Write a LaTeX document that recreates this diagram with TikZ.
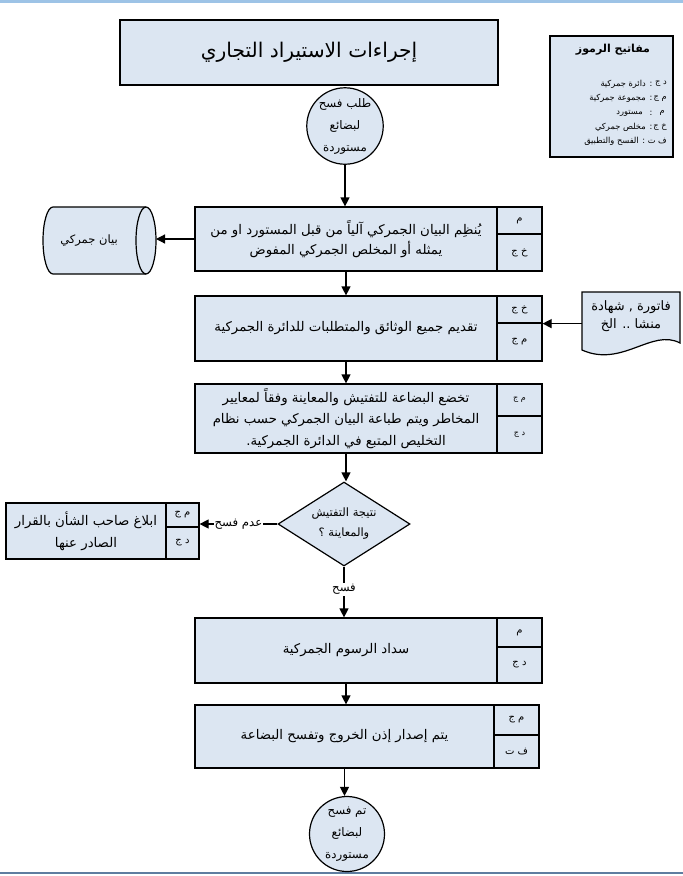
\documentclass[tikz,border=0pt]{standalone}
\usepackage{fontspec}
\usetikzlibrary{shapes.geometric,arrows.meta,calc}
\newfontfamily\arfont[Script=Arabic]{DejaVu Sans}
\TeXXeTstate=1
\newcommand\AR[1]{{\arfont\beginR #1\endR}}
\definecolor{boxfill}{RGB}{220,230,242}
\definecolor{topline}{RGB}{157,195,230}
\definecolor{botline}{RGB}{95,125,160}
\begin{document}
\begin{tikzpicture}[x=1pt,y=-1pt,
  every node/.style={font=\arfont},
  mainbox/.style={draw,fill=boxfill,line width=1.2pt,inner sep=0pt,align=center,font=\arfont\fontsize{13.3}{20}\selectfont},
  sidecell/.style={draw,fill=boxfill,line width=1.2pt,inner sep=0pt,minimum width=45pt,font=\arfont\fontsize{10}{11}\selectfont},
  termnode/.style={circle,draw,fill=boxfill,line width=1.2pt,inner sep=0pt,minimum size=75pt,align=center,font=\arfont\fontsize{11.8}{22}\selectfont},
  flow/.style={line width=1.2pt,-{Triangle[length=9pt,width=9pt]}},
  lbl/.style={fill=white,inner sep=1pt,font=\arfont\fontsize{11.7}{13}\selectfont},
  legtxt/.style={inner sep=0pt,font=\arfont\fontsize{8.3}{10}\selectfont}
]
\useasboundingbox (0,0) rectangle (683,876);
\fill[topline] (0,0) rectangle (683,3);
\draw[botline,line width=1.5pt] (0,873) -- (683,873);

% title
\node[draw,fill=boxfill,line width=1.8pt,minimum width=378pt,minimum height=65pt,inner sep=0pt,font=\arfont\fontsize{20.2}{24}\selectfont] (title) at (309,52.5) {\AR{إجراءات الاستيراد التجاري}};

% legend
\draw[fill=boxfill,line width=1.8pt] (550,36) rectangle (673,157);
\node[font=\arfont\bfseries\fontsize{11}{13}\selectfont,inner sep=0pt] (legt) at (613,50) {\AR{مفاتيح الرموز}};
\node[legtxt,anchor=east] (la1) at (667,84) {\AR{د ج}};
\node[legtxt] (lc1) at (651,84) {:};
\node[legtxt,anchor=east] (ld1) at (646,84) {\AR{دائرة جمركية}};
\node[legtxt,anchor=east] (la2) at (667,98.5) {\AR{م ج}};
\node[legtxt] (lc2) at (651,98.5) {:};
\node[legtxt,anchor=east] (ld2) at (646,98.5) {\AR{مجموعة جمركية}};
\node[legtxt,anchor=east] (la3) at (665,113) {\AR{م}};
\node[legtxt] (lc3) at (651,113) {:};
\node[legtxt,anchor=east] (ld3) at (643,113) {\AR{مستورد}};
\node[legtxt,anchor=east] (la4) at (667,127) {\AR{خ ج}};
\node[legtxt] (lc4) at (651,127) {:};
\node[legtxt,anchor=east] (ld4) at (646,127) {\AR{مخلص جمركي}};
\node[legtxt,anchor=east] (l5) at (667,141) {\AR{ف ت : الفسح والتطبيق}};

% start
\node[termnode] (n0) at (345,126) {\AR{طلب فسح}\\\AR{لبضائع}\\\AR{مستوردة}};

% box 1
\node[mainbox,minimum width=302pt,minimum height=64pt] (b1) at (346,239) {\AR{يُنظِم البيان الجمركي آلياً من قبل  المستورد او من}\\\AR{يمثله أو المخلص الجمركي المفوض}};
\node[sidecell,minimum height=27pt] (b1t) at (519.5,220.5) {\AR{م}};
\node[sidecell,minimum height=37pt] (b1u) at (519.5,252.5) {\AR{خ ج}};

% cylinder
\draw[fill=boxfill,line width=1.2pt] (53,207) -- (146,207) arc[start angle=270,end angle=450,x radius=10,y radius=33.5] -- (53,274) arc[start angle=90,end angle=270,x radius=10,y radius=33.5] -- cycle;
\draw[line width=1.2pt] (146,274) arc[start angle=90,end angle=270,x radius=10,y radius=33.5];
\coordinate (cylR) at (156,240.5);
\node[inner sep=0pt,font=\arfont\fontsize{11.5}{13}\selectfont] (cylt) at (89,240.5) {\AR{بيان جمركي}};

% box 2
\node[mainbox,minimum width=302pt,minimum height=65pt] (b2) at (346,328.5) {\AR{تقديم جميع الوثائق والمتطلبات للدائرة الجمركية}};
\node[sidecell,minimum height=27pt] (b2t) at (519.5,309.5) {\AR{خ ج}};
\node[sidecell,minimum height=38pt] (b2u) at (519.5,342) {\AR{م ج}};

% document
\draw[fill=boxfill,line width=1.2pt] (582,292) -- (680,292) -- (680,343) .. controls (652,328) and (622,368) .. (582,350) -- cycle;
\node[minimum width=98pt,inner sep=0pt,align=center,font=\arfont\fontsize{13}{18}\selectfont] (doc) at (631,316) {\AR{فاتورة , شهادة}\\\AR{منشا .. الخ}};

% box 3
\node[mainbox,minimum width=302pt,minimum height=69pt,font=\arfont\fontsize{13.3}{21.5}\selectfont] (b3) at (346,418.5) {\AR{تخضع البضاعة للتفتيش والمعاينة وفقاً لمعايير}\\\AR{المخاطر ويتم طباعة البيان الجمركي حسب نظام}\\\AR{التخليص المتبع في الدائرة الجمركية.}};
\node[sidecell,minimum height=32pt,font=\arfont\fontsize{8}{9}\selectfont] (b3t) at (519.5,400) {\AR{م ج}};
\node[sidecell,minimum height=37pt,font=\arfont\fontsize{8}{9}\selectfont] (b3u) at (519.5,434.5) {\AR{د ج}};

% decision
\node[diamond,draw,fill=boxfill,line width=1.2pt,minimum width=132pt,minimum height=84pt,aspect=1.57,inner sep=0pt,align=center,font=\arfont\fontsize{11.5}{20}\selectfont] (dec) at (344,524) {\AR{نتيجة التفتيش}\\\AR{والمعاينة ؟}};

% left box
\node[mainbox,minimum width=160pt,minimum height=56pt,font=\arfont\fontsize{13.3}{22}\selectfont] (b6) at (86,531) {\AR{ابلاغ صاحب الشأن بالقرار}\\\AR{الصادر عنها}};
\node[sidecell,minimum width=33pt,minimum height=24pt] (b6t) at (182.5,515) {\AR{م ج}};
\node[sidecell,minimum width=33pt,minimum height=32pt] (b6u) at (182.5,543) {\AR{د ج}};

% box 4
\node[mainbox,minimum width=302pt,minimum height=65pt] (b4) at (346,650.5) {\AR{سداد الرسوم الجمركية}};
\node[sidecell,minimum height=29pt] (b4t) at (519.5,632.5) {\AR{م}};
\node[sidecell,minimum height=36pt] (b4u) at (519.5,665) {\AR{د ج}};

% box 5
\node[mainbox,minimum width=299pt,minimum height=63pt] (b5) at (344.5,736.5) {\AR{يتم إصدار إذن الخروج وتفسح البضاعة}};
\node[sidecell,minimum height=30pt] (b5t) at (516.5,720) {\AR{م ج}};
\node[sidecell,minimum height=33pt] (b5u) at (516.5,751.5) {\AR{ف ت}};

% end
\node[termnode] (n9) at (347,834) {\AR{تم  فسح}\\\AR{لبضائع}\\\AR{مستوردة}};

% connectors
\draw[flow] (n0.south) -- (n0.south |- b1.north);
\draw[flow] (b1.west) -- (b1.west -| cylR);
\draw[flow] (b1.south) -- (b2.north);
\coordinate (b2in) at (b2t.south east);
\draw[flow] (doc.west |- b2in) -- (b2in);
\draw[flow] (b2.south) -- (b3.north);
\draw[flow] (b3.south) -- (b3.south |- dec.north);
\draw[flow] (dec.west) -- (dec.west -| b6t.east) node[lbl,pos=0.5] {\AR{عدم فسح}};
\draw[flow] (dec.south) -- (dec.south |- b4.north) node[lbl,pos=0.45] {\AR{فسح}};
\draw[flow] (b4.south) -- (b4.south |- b5.north);
\draw[flow] (b5.south) -- (b5.south |- n9.north);
\end{tikzpicture}
\end{document}
